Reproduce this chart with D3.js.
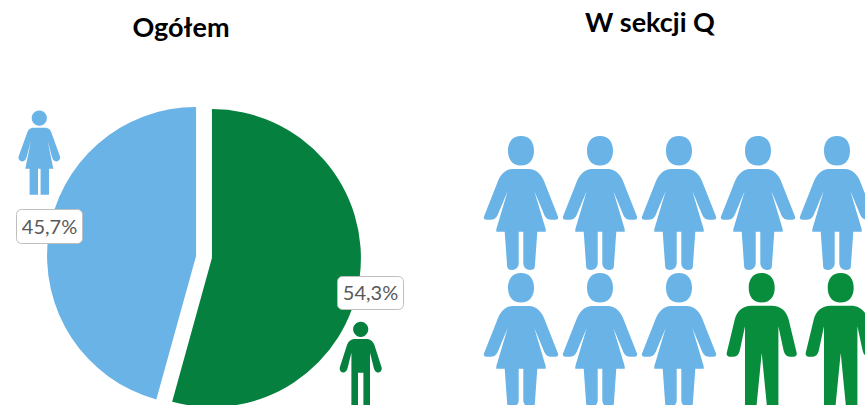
<!DOCTYPE html>
<html>
<head>
<meta charset="utf-8">
<script src="https://cdn.jsdelivr.net/npm/d3@7"></script>
<style>
html, body { margin: 0; padding: 0; background: #fff; overflow: hidden; }
svg { display: block; }
text { font-family: Lato, "Open Sans", sans-serif; }
</style>
</head>
<body>
<script>
// dane
var pieGroups = ["Mężczyźni", "Kobiety"];
var pieValues = [54.3, 45.7];
var pieLabels = ["54,3%", "45,7%"];
var pieColors = ["#05803f", "#69b3e7"];

var sectionPeople = ["k", "k", "k", "k", "k", "k", "k", "k", "m", "m"];
var sectionColumns = [0, 1, 2, 3, 4];
var sectionRows = [0, 1];

var blue = "#69b3e7";
var green = "#078d3c";

// sylwetki (srodek x = 0, czubek glowy y = 0)
var headBig = "M0,0C8.5,0 13,6 13,14.7C13,23.5 8.5,29.5 0,29.5C-8.5,29.5 -13,23.5 -13,14.7C-13,6 -8.5,0 0,0Z";

var womanBig = headBig +
  "M-8,33L8,33C15,33 20,38 23,45L37,80.5Q38,83.7 34.5,83.7L30,83.7C26,83.7 24,81 22.5,77L13.3,55L24.7,93.3L24.7,95.7L16.3,95.7" +
  "L13.8,131Q13.3,134 9,134C5,134 2.3,131 2.3,127L2.3,95.7L-2.3,95.7L-2.3,127C-2.3,131 -5,134 -9,134Q-13.3,134 -13.8,131" +
  "L-16.3,95.7L-24.7,95.7L-24.7,93.3L-13.3,55L-22.5,77C-24,81 -26,83.7 -30,83.7L-34.5,83.7Q-38,83.7 -37,80.5L-23,45C-20,38 -15,33 -8,33Z";

var manBig = headBig +
  "M-10,32.7L10,32.7C19,32.7 25,38 27,46.7L35,80Q35.5,83.7 32,83.7L28,83.7Q23.5,83.7 22,78L16.7,53.3L16.7,136L5.5,136L0,80L-5.5,136L-16.7,136" +
  "L-16.7,53.3L-22,78Q-23.5,83.7 -28,83.7L-32,83.7Q-35.5,83.7 -35,80L-27,46.7C-25,38 -19,32.7 -10,32.7Z";

var womanSmall = "M0,0A7.6,7.6 0 1,1 -0.01,0Z" +
  "M-7,17.3L7,17.3Q11,18 12.5,23.3L20.7,46C21.5,49.5 18,52 15.5,50.5Q13.5,49.5 12.8,47L8.3,30L14,58.3L9.7,58.3L9.7,84.3L1.3,84.3L1.3,58.3" +
  "L-1.3,58.3L-1.3,84.3L-9.7,84.3L-9.7,58.3L-14,58.3L-8.3,30L-12.8,47Q-13.5,49.5 -15.5,50.5C-18,52 -21.5,49.5 -20.7,46L-12.5,23.3Q-11,18 -7,17.3Z";

var manSmall = "M0,0A7.6,7.6 0 1,1 -0.01,0Z" +
  "M-7,17.3L7,17.3Q12,18.5 13.7,23.3L21,46C21.5,50 18.5,51.5 16.5,50.7Q14,50 13.3,47L9.3,31L9.3,90L2.7,90L2.7,51L-2.7,51L-2.7,90L-9.3,90L-9.3,31" +
  "L-13.3,47Q-14,50 -16.5,50.7C-18.5,51.5 -21.5,50 -21,46L-13.7,23.3Q-12,18.5 -7,17.3Z";

var width = 865, height = 405;

var svg = d3.select("body")
  .append("svg")
  .attr("width", width)
  .attr("height", height);

// tytuly
svg.append("text")
  .attr("x", 181).attr("y", 37)
  .attr("text-anchor", "middle")
  .attr("font-size", 27).attr("font-weight", 700)
  .attr("fill", "#000")
  .text("Ogółem");

svg.append("text")
  .attr("x", 650).attr("y", 32)
  .attr("text-anchor", "middle")
  .attr("font-size", 27).attr("font-weight", 700)
  .attr("fill", "#000")
  .text("W sekcji Q");

// kolo
var pieX = 204, pieY = 257, radius = 149, explode = 8;

var pie = d3.pie().sort(null).value(function(d){ return d; });
var arc = d3.arc().innerRadius(0).outerRadius(radius);

svg.append("g")
  .attr("transform", "translate(" + pieX + "," + pieY + ")")
  .selectAll("path")
  .data(pie(pieValues))
  .enter()
  .append("path")
  .attr("d", arc)
  .attr("fill", function(d,i){ return pieColors[i]; })
  .attr("transform", function(d){
    var mid = (d.startAngle + d.endAngle) / 2;
    return "translate(" + (Math.sin(mid) * explode) + "," + (-Math.cos(mid) * explode) + ")";
  })
  .append("title")
  .text(function(d,i){ return pieGroups[i]; });

// etykiety
var labelBoxes = [
  {x: 337.5, y: 276.5, w: 66, h: 33},
  {x: 16.5, y: 209.5, w: 66, h: 34}
];

var labels = svg.append("g")
  .selectAll("g")
  .data(pieLabels)
  .enter()
  .append("g");

labels.append("rect")
  .attr("x", function(d,i){ return labelBoxes[i].x; })
  .attr("y", function(d,i){ return labelBoxes[i].y; })
  .attr("width", function(d,i){ return labelBoxes[i].w; })
  .attr("height", function(d,i){ return labelBoxes[i].h; })
  .attr("rx", 5)
  .attr("fill", "#fff")
  .attr("stroke", "#bfbfbf");

labels.append("text")
  .attr("x", function(d,i){ return labelBoxes[i].x + labelBoxes[i].w / 2; })
  .attr("y", function(d,i){ return labelBoxes[i].y + labelBoxes[i].h / 2 + 7; })
  .attr("text-anchor", "middle")
  .attr("font-size", 20)
  .attr("fill", "#595959")
  .text(function(d){ return d; });

// male ikony przy kole
svg.append("path").attr("d", womanSmall).attr("fill", blue)
  .attr("transform", "translate(39.3,110.5)");
svg.append("path").attr("d", manSmall).attr("fill", pieColors[0])
  .attr("transform", "translate(360.7,321.7)");

// W sekcji Q
var xScale = d3.scalePoint().domain(sectionColumns).range([521, 837]);
var yScale = d3.scalePoint().domain(sectionRows).range([136, 273]);

svg.append("g")
  .selectAll("path")
  .data(sectionPeople)
  .enter()
  .append("path")
  .attr("d", function(d){ return d == "k" ? womanBig : manBig; })
  .attr("fill", function(d){ return d == "k" ? blue : green; })
  .attr("transform", function(d,i){
    var col = i % sectionColumns.length;
    var row = Math.floor(i / sectionColumns.length);
    var x = xScale(col) + (d == "m" ? 3.7 : 0);
    return "translate(" + x + "," + yScale(row) + ")";
  });
</script>
</body>
</html>
